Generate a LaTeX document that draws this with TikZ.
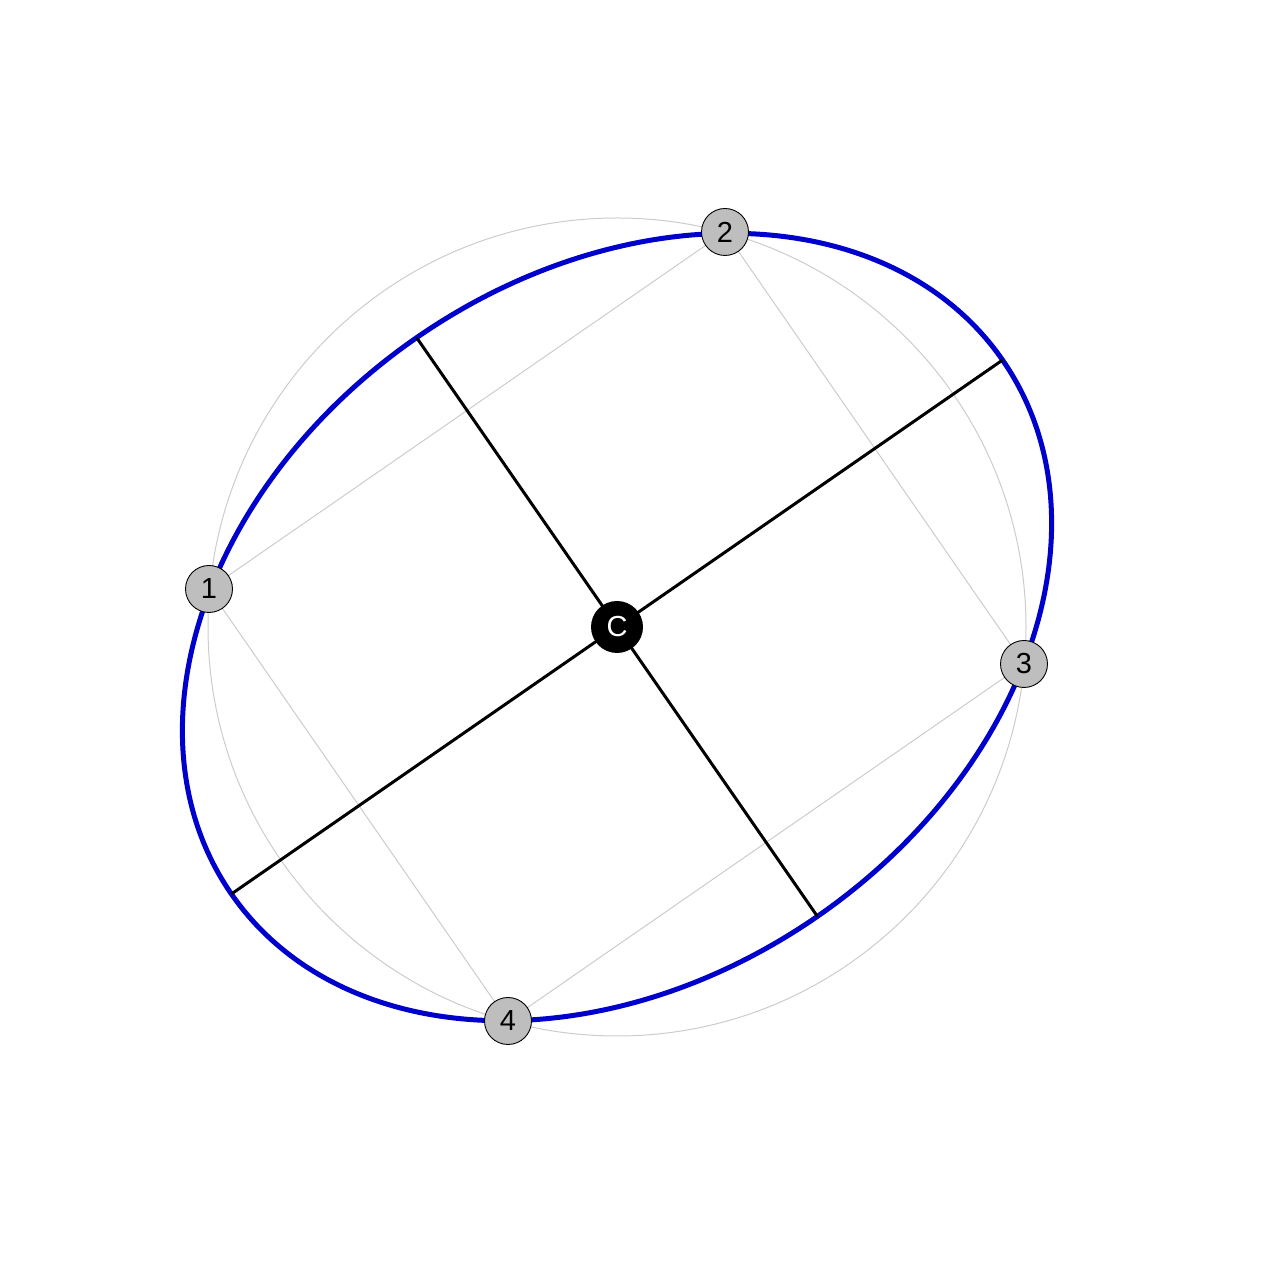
\documentclass[tikz,border=0pt]{standalone}
\usepackage{fontspec}
\setmainfont{Liberation Sans}
\usetikzlibrary{calc}
\definecolor{ellblue}{RGB}{0,0,205}
\definecolor{ptgray}{RGB}{190,190,190}
\definecolor{lightln}{RGB}{204,204,204}
\tikzset{
  pt/.style={circle, draw=black, line width=0.45pt, fill=ptgray, minimum size=23.5pt, inner sep=0pt, font=\fontsize{14.5}{16}\selectfont},
  ctr/.style={circle, fill=black, text=white, minimum size=26pt, inner sep=0pt, font=\fontsize{14.5}{16}\selectfont},
  guide/.style={draw=lightln, line width=0.5pt},
  ell/.style={draw=ellblue, line width=2.5pt},
  axisln/.style={draw=black, line width=1.5pt}
}
\begin{document}
\begin{tikzpicture}[x=0.5pt,y=0.5pt]
\useasboundingbox (0,0) rectangle (1280,1280);
\coordinate (C) at (617,653);
\coordinate (P1) at (209,691);
\coordinate (P2) at (725,1048);
\coordinate (P3) at (1024,616);
\coordinate (P4) at (508,259);
\coordinate (A1) at ($(C)+(34.7:469)$);
\coordinate (A2) at ($(C)+(214.7:469)$);
\coordinate (B1) at ($(C)+(124.7:352)$);
\coordinate (B2) at ($(C)+(304.7:352)$);
\draw[guide] (C) circle [radius=409];
\draw[guide] (P1) -- (P2) -- (P3) -- (P4) -- cycle;
\draw[ell, rotate around={34.7:(C)}] (C) ellipse [x radius=469, y radius=352];
\draw[axisln] (A2) -- (A1);
\draw[axisln] (B2) -- (B1);
\node[pt] (n1) at (P1) {1};
\node[pt] (n2) at (P2) {2};
\node[pt] (n3) at (P3) {3};
\node[pt] (n4) at (P4) {4};
\node[ctr] (c) at (C) {C};
\end{tikzpicture}
\end{document}
